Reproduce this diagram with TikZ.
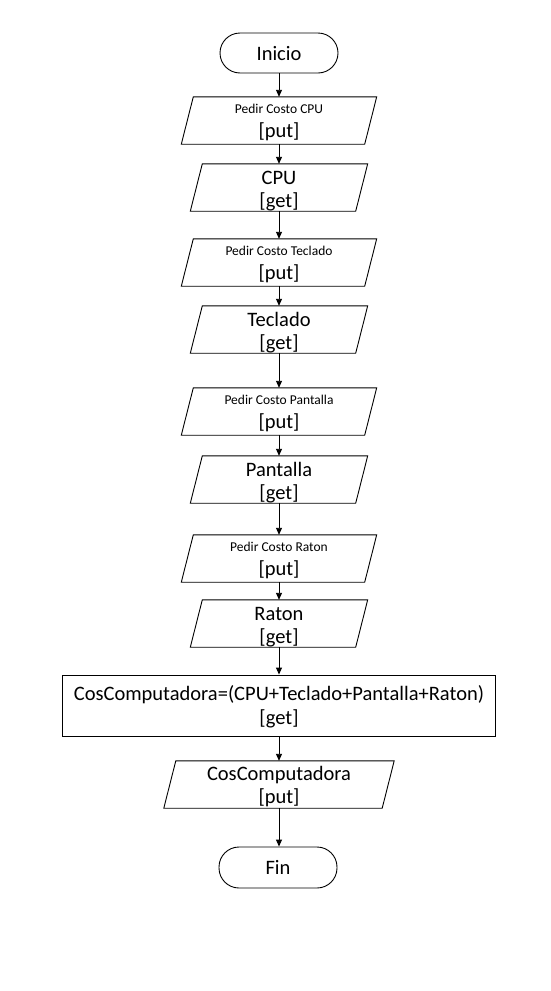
\documentclass[tikz,border=0pt]{standalone}
\usepackage{fontspec}
\setmainfont{Carlito}
\usetikzlibrary{arrows.meta}
\begin{document}
\begin{tikzpicture}[x=1pt,y=-1pt,
  every node/.style={inner sep=0pt, font=\fontsize{20.5}{24}\selectfont},
  txt/.style={anchor=base},
  stxt/.style={anchor=base, font=\fontsize{13.5}{16}\selectfont},
  term/.style={draw, rounded corners=20pt, minimum width=118pt, minimum height=40pt, line width=0.9pt},
  putbox/.style={minimum width=183pt, minimum height=47pt},
  getbox/.style={minimum width=165pt, minimum height=47pt},
  outbox/.style={minimum width=218pt, minimum height=47pt},
  procbox/.style={draw, line width=0.9pt, minimum width=433pt, minimum height=61pt},
  pgram/.style={line width=0.9pt},
  flow/.style={line width=0.9pt, -{Triangle[length=7pt,width=6pt]}}
]
\fill[white] (0,0) rectangle (550,991);
\useasboundingbox (0,0) rectangle (550,991);

% shapes
\node[term] (ini) at (279,53) {};
\node[putbox] (p1) at (279,120.5) {};
\node[getbox] (g1) at (279,187.5) {};
\node[putbox] (p2) at (279,262.5) {};
\node[getbox] (g2) at (279,329.5) {};
\node[putbox] (p3) at (279,411.5) {};
\node[getbox] (g3) at (279,479.5) {};
\node[putbox] (p4) at (279,558.5) {};
\node[getbox] (g4) at (279,623.5) {};
\node[procbox] (calc) at (279,705.5) {};
\node[outbox] (out) at (279,784.5) {};
\node[term, minimum height=41pt] (fin) at (278,867.5) {};

\foreach \n in {p1,g1,p2,g2,p3,g3,p4,g4,out}
  \draw[pgram] ([xshift=6pt]\n.north west) -- ([xshift=6pt]\n.north east)
     -- ([xshift=-6pt]\n.south east) -- ([xshift=-6pt]\n.south west) -- cycle;

% texts
\node[txt] (iniT) at (279,60.5) {Inicio};
\node[stxt] (p1a) at (279,113) {Pedir Costo CPU};
\node[txt]  (p1b) at (279,137) {[put]};
\node[txt]  (g1a) at (279,184.5) {CPU};
\node[txt]  (g1b) at (279,207.5) {[get]};
\node[stxt] (p2a) at (279,255) {Pedir Costo Teclado};
\node[txt]  (p2b) at (279,279) {[put]};
\node[txt]  (g2a) at (279,326.5) {Teclado};
\node[txt]  (g2b) at (279,349.5) {[get]};
\node[stxt] (p3a) at (279,404) {Pedir Costo Pantalla};
\node[txt]  (p3b) at (279,428) {[put]};
\node[txt]  (g3a) at (279,476.5) {Pantalla};
\node[txt]  (g3b) at (279,499.5) {[get]};
\node[stxt] (p4a) at (279,551) {Pedir Costo Raton};
\node[txt]  (p4b) at (279,575) {[put]};
\node[txt]  (g4a) at (279,620.5) {Raton};
\node[txt]  (g4b) at (279,643.5) {[get]};
\node[txt]  (ca) at (279,700.5) {CosComputadora=(CPU+Teclado+Pantalla+Raton)};
\node[txt]  (cb) at (279,724.5) {[get]};
\node[txt]  (oa) at (279,780.5) {CosComputadora};
\node[txt]  (ob) at (279,803.5) {[put]};
\node[txt]  (finT) at (278,874.5) {Fin};

% connectors
\draw[flow] (ini) -- (p1);
\draw[flow] (p1) -- (g1);
\draw[flow] (g1) -- (p2);
\draw[flow] (p2) -- (g2);
\draw[flow] (g2) -- (p3);
\draw[flow] (p3) -- (g3);
\draw[flow] (g3) -- (p4);
\draw[flow] (p4) -- (g4);
\draw[flow] (g4) -- (calc);
\draw[flow] (calc) -- (out);
\draw[flow] (out.south) -- (out.south |- fin.north);
\end{tikzpicture}
\end{document}
